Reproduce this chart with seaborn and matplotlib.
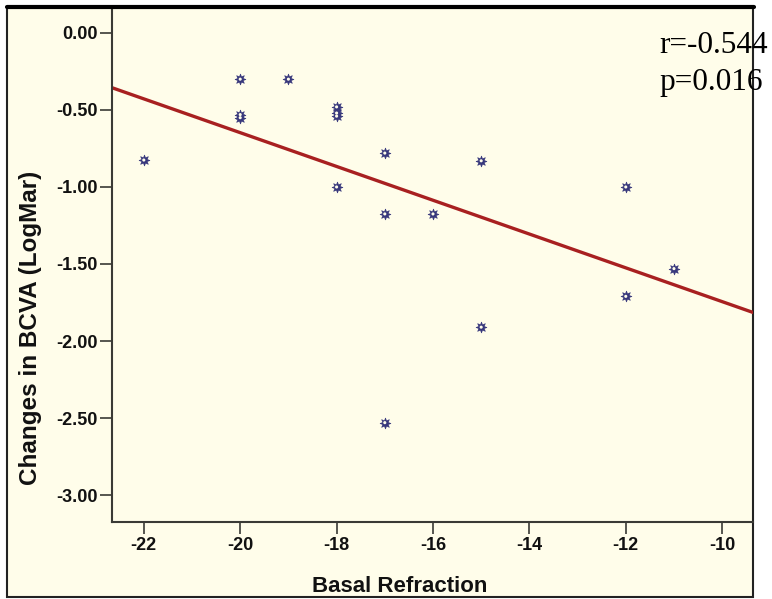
import numpy as np
import pandas as pd
import matplotlib
matplotlib.use('Agg')
import matplotlib.pyplot as plt
from matplotlib.patches import Rectangle
from matplotlib.lines import Line2D
import seaborn as sns

# values
basal_refraction = [-22, -20, -20, -20, -19, -18, -18, -18, -18,
                    -17, -17, -17, -16, -15, -15, -12, -12, -11]
bcva_change = [-0.825, -0.30, -0.53, -0.55, -0.30, -0.48, -0.52, -0.54, -1.00,
               -0.78, -1.175, -2.53, -1.175, -0.83, -1.91, -1.00, -1.71, -1.53]
x_ticks = [-22, -20, -18, -16, -14, -12, -10]
y_ticks = [0.0, -0.5, -1.0, -1.5, -2.0, -2.5, -3.0]
stats_text = ['r=-0.544', 'p=0.016']

CREAM = '#FFFDEA'
NAVY = '#38387C'
RED = '#A82020'
GREY = '#3A3A35'

df = pd.DataFrame({'basal': basal_refraction, 'bcva': bcva_change})

sns.set_style("ticks")
plt.rcParams['font.family'] = ['Liberation Sans', 'DejaVu Sans']

fig = plt.figure(figsize=(7.72, 5.99), dpi=100, facecolor='white')

# cream panel with frame
W, H = 772., 599.
fig.patches.append(Rectangle((7 / W, 1 - 597 / H), (753 - 7) / W, (597 - 7) / H,
                             transform=fig.transFigure, facecolor=CREAM,
                             edgecolor='#222222', linewidth=1.5, zorder=-5))
fig.lines.append(Line2D([7 / W, 754 / W], [1 - 7 / H, 1 - 7 / H], transform=fig.transFigure,
                        color='black', linewidth=3, zorder=5))

ax = fig.add_axes([112 / W, 1 - 522 / H, (753 - 112) / W, (522 - 8) / H])
ax.set_facecolor('none')
ax.set_xlim(-22.66, -9.36)
ax.set_ylim(-3.175, 0.162)

sns.regplot(data=df, x='basal', y='bcva', ci=None, truncate=False, scatter=False,
            line_kws={'color': RED, 'linewidth': 2.4}, ax=ax)
sns.scatterplot(data=df, x='basal', y='bcva', marker=(8, 1, 0), s=60, color=NAVY,
                edgecolor=NAVY, linewidth=0.5, ax=ax, zorder=3)
sns.scatterplot(data=df, x='basal', y='bcva', marker='o', s=5, color=CREAM,
                edgecolor='none', ax=ax, zorder=4)

ax.set_xticks(x_ticks)
ax.set_xticklabels([f'{t}' for t in x_ticks])
ax.set_yticks(y_ticks)
ax.set_yticklabels([f'{t:.2f}' for t in y_ticks])
ax.tick_params(axis='both', length=8.5, width=1.2, color=GREY, pad=2, labelsize=13)
for lab in ax.get_xticklabels() + ax.get_yticklabels():
    lab.set_fontweight('bold')
    lab.set_color('#111111')

for side in ['top', 'right']:
    ax.spines[side].set_visible(False)
for side in ['left', 'bottom']:
    ax.spines[side].set_color(GREY)
    ax.spines[side].set_linewidth(1.5)

ax.set_xlabel('Basal Refraction', fontsize=16, fontweight='bold', color='#111111')
ax.set_ylabel('Changes in BCVA (LogMar)', fontsize=17.5, fontweight='bold', color='#111111')
ax.xaxis.set_label_coords((400 - 112) / 641., (522 - 576) / 514.)
ax.yaxis.set_label_coords((42 - 112) / 641., (522 - 328) / 514.)

fig.text(659 / W, 1 - 53 / H, stats_text[0], ha='left', va='baseline', fontsize=22.5,
         family=['Liberation Serif', 'DejaVu Serif'], color='black', zorder=5)
fig.text(659 / W, 1 - 90 / H, stats_text[1], ha='left', va='baseline', fontsize=22.5,
         family=['Liberation Serif', 'DejaVu Serif'], color='black', zorder=5)

fig.savefig('out.png', dpi=100, facecolor='white')
